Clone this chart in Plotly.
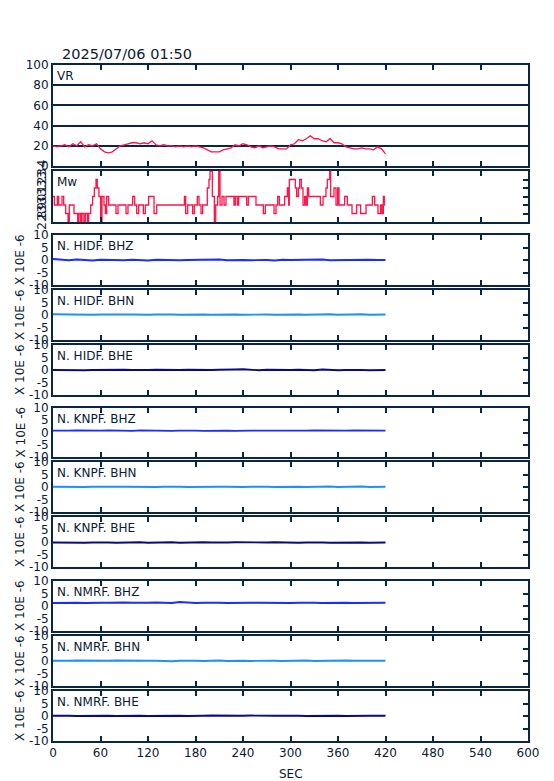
import plotly.graph_objects as go

W, H = 554, 781
OFF = 8  # default page margin around the figure
WF, HF = W - OFF, H - OFF
TITLE = "2025/07/06 01:50"
X_TICKS = [0, 60, 120, 180, 240, 300, 360, 420, 480, 540, 600]
T_END = 420

# ---- VR (variance reduction) sampled every 5 s ----
vr_t = list(range(0, 421, 5))
vr_vals = [20, 19, 20, 21, 19, 22, 20, 24, 19, 21, 20, 22, 17, 14, 13, 14, 17, 20, 21, 22,
           23, 23, 22, 23, 22, 25, 21, 20, 21, 20, 20, 19, 20, 19, 20, 19, 20, 19, 18, 16,
           14, 14, 14, 16, 17, 18, 21, 20, 22, 21, 19, 18, 20, 18, 19, 20, 19, 17, 17, 17,
           21, 22, 26, 25, 27, 30, 27, 27, 25, 24, 27, 23, 23, 22, 19, 18, 17, 17, 18, 17,
           17, 16, 19, 17, 12]

# ---- Mw (step changes) ----
mw_t = [0, 1.7, 5.5, 7.2, 11.4, 13.5, 16, 19, 20.6, 26.5, 31.2, 32.8, 35, 36.6, 39, 40.8,
        43.4, 45, 47.6, 50, 52.2, 54.3, 56, 58, 60.2, 61.9, 64.4, 66.1, 67.8, 70.3, 79.6,
        82.1, 92.2, 94.7, 100.6, 103.2, 105.7, 108.2, 114.1, 116.6, 120.8, 127.6, 131, 166,
        167.6, 170.1, 176.4, 178.5, 182.3, 184.4, 187, 189, 194.9, 197, 198.3, 201.3, 203.8,
        205.5, 208, 209.3, 211, 213.5, 216, 218.5, 228.6, 230.3, 232.8, 234.5, 244.6, 246.7,
        256.4, 265.7, 268.2, 279.2, 281.7, 283.8, 285.9, 292.6, 296, 297.7, 298.5, 306.1,
        307.8, 309.9, 311.6, 313.7, 315.8, 317.9, 319.6, 321.3, 323, 337.7, 341.1, 344.8,
        346.5, 349.5, 350.7, 354.9, 357.5, 359.6, 361.3, 368.4, 371.8, 377.7, 383.6, 388.6,
        395.4, 403.4, 406.3, 410.5, 413.9, 415.6, 417.3, 418.5, 419.6]
mw_vals = [3.1, 3.0, 3.1, 3.0, 3.1, 3.0, 2.9, 2.8, 3.0, 2.9, 2.8, 2.9, 2.8, 2.9, 2.8, 2.9,
           2.8, 2.9, 3.0, 3.1, 3.2, 3.3, 3.2, 3.1, 2.8, 3.1, 3.0, 2.9, 3.1, 3.0, 2.9,
           3.0, 2.9, 3.0, 3.1, 3.0, 2.9, 3.0, 2.9, 3.0, 3.1, 2.9, 3.0, 3.1,
           2.9, 3.0, 2.9, 3.0, 3.1, 3.0, 2.9, 3.0, 3.2, 3.3, 3.4, 3.1, 2.8,
           3.0, 3.1, 3.4, 3.0, 3.1, 3.0, 3.1, 3.0, 3.1, 3.0, 3.1, 3.0, 3.1,
           3.0, 2.9, 3.0, 2.9, 3.0, 3.1, 3.0, 3.1, 3.2, 3.0, 3.3, 3.2,
           3.1, 3.2, 3.3, 3.2, 3.0, 3.1, 3.0, 3.2, 3.1, 3.0, 3.1, 3.2,
           3.3, 3.4, 3.1, 3.2, 3.0, 3.2, 3.0, 3.1, 3.0, 2.9, 3.0, 2.9,
           3.0, 3.1, 3.0, 2.9, 3.0, 2.9, 3.1, 3.0, 3.0]

# ---- waveforms (x 10E-6), sampled every 10 s ----
station_labels = ["N. HIDF. BHZ", "N. HIDF. BHN", "N. HIDF. BHE",
                  "N. KNPF. BHZ", "N. KNPF. BHN", "N. KNPF. BHE",
                  "N. NMRF. BHZ", "N. NMRF. BHN", "N. NMRF. BHE"]
hidf_bhz = [0.4, 0.1, -0.1, 0.2, 0.0, -0.2, 0.1, 0.0, 0.2, -0.1, 0.1, 0.0, -0.2, 0.1, 0.0,
            0.2, -0.1, 0.0, 0.1, -0.1, 0.0, 0.2, -0.1, 0.1, 0.0, -0.1, 0.1, 0.0, -0.2, 0.1,
            0.0, 0.1, -0.1, 0.0, 0.2, -0.1, 0.0, 0.1, -0.1, 0.0, 0.1, 0.0, 0.0]
hidf_bhn = [0.3, 0.2, 0.1, 0.3, 0.2, 0.1, 0.2, 0.3, 0.1, 0.2, 0.2, 0.3, 0.1, 0.2, 0.3,
            0.2, 0.1, 0.2, 0.3, 0.2, 0.1, 0.2, 0.3, 0.2, 0.1, 0.2, 0.4, 0.2, 0.1, 0.2,
            0.3, 0.2, 0.1, 0.2, 0.2, 0.3, 0.1, 0.2, 0.2, 0.3, 0.1, 0.2, 0.2]
hidf_bhe = [0.0, -0.1, 0.1, 0.0, -0.1, 0.0, 0.1, -0.1, 0.0, 0.1, 0.0, -0.1, 0.0, 0.1, 0.0,
            -0.1, 0.0, 0.1, 0.0, -0.1, 0.0, 0.1, 0.0, 0.2, 0.3, 0.0, -0.1, 0.1, 0.0, -0.1,
            0.0, 0.1, 0.0, -0.1, 0.2, 0.0, -0.1, 0.0, 0.1, 0.0, -0.1, 0.0, 0.0]
knpf_bhz = [0.8, 0.7, 0.8, 0.9, 0.8, 0.7, 0.8, 0.9, 0.8, 0.8, 0.7, 0.9, 0.8, 0.8, 0.9,
            0.7, 0.8, 0.9, 0.8, 0.7, 0.8, 0.9, 0.8, 0.7, 0.9, 0.8, 0.8, 0.7, 0.9, 0.8,
            0.8, 0.7, 0.8, 0.9, 0.8, 0.8, 0.7, 0.8, 0.9, 0.8, 0.7, 0.8, 0.8]
knpf_bhn = [0.1, 0.0, 0.2, 0.1, 0.0, 0.1, 0.2, 0.0, 0.1, 0.1, 0.0, 0.2, 0.1, 0.0, 0.1,
            0.2, 0.1, 0.0, 0.1, 0.2, 0.0, 0.1, 0.1, 0.2, 0.0, 0.1, 0.2, 0.1, 0.0, 0.1,
            0.2, 0.1, 0.0, 0.1, 0.1, 0.2, 0.0, 0.1, 0.1, 0.2, 0.0, 0.1, 0.1]
knpf_bhe = [-0.2, -0.3, -0.1, -0.2, -0.3, -0.2, -0.1, -0.2, -0.3, -0.2, -0.2, -0.1, -0.3,
            -0.2, -0.2, -0.1, -0.3, -0.2, -0.2, -0.1, -0.2, -0.3, -0.2, -0.1, -0.2, -0.2,
            -0.3, -0.2, -0.1, -0.2, -0.2, -0.3, -0.2, -0.1, -0.2, -0.3, -0.2, -0.2, -0.1,
            -0.2, -0.3, -0.2, -0.2]
nmrf_bhz = [1.2, 1.3, 1.4, 1.3, 1.2, 1.4, 1.3, 1.3, 1.2, 1.4, 1.3, 1.2, 1.3, 1.4, 1.3,
            1.2, 1.6, 1.3, 1.2, 1.3, 1.4, 1.3, 1.2, 1.3, 1.4, 1.3, 1.3, 1.2, 1.4, 1.3,
            1.2, 1.3, 1.4, 1.3, 1.2, 1.3, 1.4, 1.3, 1.2, 1.3, 1.3, 1.4, 1.3]
nmrf_bhn = [0.1, 0.0, 0.1, 0.2, 0.1, 0.0, 0.2, 0.1, 0.2, 0.1, 0.0, 0.2, 0.1, 0.1, 0.0,
            -0.1, 0.1, 0.2, 0.1, 0.0, 0.1, 0.2, 0.0, 0.1, 0.1, 0.0, 0.1, 0.2, 0.1, 0.0,
            0.1, 0.1, 0.2, 0.0, 0.1, 0.1, 0.0, 0.2, 0.1, 0.1, 0.0, 0.1, 0.1]
nmrf_bhe = [0.1, 0.2, 0.1, 0.0, 0.1, 0.2, 0.1, 0.1, 0.0, 0.1, 0.2, 0.1, 0.0, 0.1, 0.1,
            0.2, 0.1, 0.0, -0.1, 0.1, 0.2, 0.1, 0.0, 0.1, 0.1, 0.2, 0.1, 0.0, 0.1, 0.1,
            0.2, 0.1, 0.0, 0.1, 0.2, 0.1, 0.1, 0.0, 0.1, 0.2, 0.1, 0.1, 0.1]
waves = [hidf_bhz, hidf_bhn, hidf_bhe, knpf_bhz, knpf_bhn, knpf_bhe, nmrf_bhz, nmrf_bhn, nmrf_bhe]

# ---- styling ----
NAVY = "#0b2545"
TXT = "#0b1a33"
RED = "#ff1448"
COMP_COLORS = {"BHZ": "#1a2cff", "BHN": "#1e8fff", "BHE": "#0a0a80"}
FONT = "DejaVu Sans"

# panel pixel positions on screen (top, bottom)
panels_px = [(65, 166), (171, 222), (235, 285), (290, 340), (345, 395), (408, 457),
             (462, 512), (517, 567), (581, 631), (636, 686), (691, 741)]
X0, X1 = 53, 528


def py(p):
    return 1 - (p - OFF) / HF


def pxf(p):
    return (p - OFF) / WF


fig = go.Figure()
layout = dict(width=WF, height=HF, margin=dict(l=0, r=0, t=0, b=0), autosize=False,
              paper_bgcolor="white", plot_bgcolor="white", showlegend=False,
              font=dict(family=FONT, size=12, color=TXT))
annotations = []
N = len(panels_px)

for i in range(1, N + 1):
    top, bot = panels_px[i - 1]
    dom = [py(bot), py(top)]
    xa = "xaxis" if i == 1 else f"xaxis{i}"
    ya = "yaxis" if i == 1 else f"yaxis{i}"
    layout[xa] = dict(domain=[pxf(X0), pxf(X1)], range=[0, 600], anchor=f"y{i}" if i > 1 else "y",
                      tickvals=X_TICKS, ticks="inside", ticklen=5, tickwidth=1.5, tickcolor=NAVY,
                      showline=True, mirror="ticks", linewidth=2, linecolor=NAVY,
                      showgrid=False, zeroline=False, showticklabels=(i == N), automargin=False,
                      tickfont=dict(size=12, color=TXT))
    if i == 1:
        yr, tv, tt, rt = [0, 100], [0, 20, 40, 60, 80, 100], ["0", "20", "40", "60", "80", "100"], []
        grid = True
        tangle = 0
    elif i == 2:
        yr = [2.8, 3.4]
        tv = [2.8, 2.9, 3.0, 3.1, 3.2, 3.3, 3.4]
        tt = [f"{v:.1f}" for v in tv]
        rt = [2.9, 3.0, 3.1, 3.2, 3.3]
        grid = False
        tangle = -90
    else:
        yr = [-10, 10]
        tv = [-10, -5, 0, 5, 10]
        tt = ["-10", "-5", "0", "5", "10"]
        rt = [-5, 0, 5]
        grid = False
        tangle = 0
    layout[ya] = dict(domain=dom, range=yr, anchor=f"x{i}" if i > 1 else "x",
                      tickvals=tv, ticktext=tt, ticks="", tickangle=tangle,
                      showline=True, mirror=True, linewidth=2, linecolor=NAVY,
                      showgrid=grid, gridcolor=NAVY, gridwidth=1.5, zeroline=False,
                      automargin=False, tickfont=dict(size=12, color=TXT))
    # right-side inward ticks
    j = N + i
    layout[f"yaxis{j}"] = dict(overlaying=f"y{i}" if i > 1 else "y", side="right",
                               anchor=f"x{i}" if i > 1 else "x", range=yr, tickvals=rt,
                               ticks="inside", ticklen=5, tickwidth=1.5, tickcolor=NAVY,
                               showticklabels=False, showline=False, showgrid=False,
                               zeroline=False, automargin=False)
    fig.add_trace(go.Scatter(x=[None], y=[None], xaxis=f"x{i}" if i > 1 else "x",
                             yaxis=f"y{j}", showlegend=False, hoverinfo="skip"))

# VR
fig.add_trace(go.Scatter(x=vr_t, y=vr_vals, mode="lines", line=dict(color=RED, width=1.3),
                         xaxis="x", yaxis="y"))
# Mw
fig.add_trace(go.Scatter(x=mw_t, y=mw_vals, mode="lines", line=dict(color=RED, width=1.3, shape="hv"),
                         xaxis="x2", yaxis="y2"))
# waveforms
for k, (lab, vals) in enumerate(zip(station_labels, waves)):
    i = k + 3
    tt = [n * T_END / (len(vals) - 1) for n in range(len(vals))]
    col = COMP_COLORS[lab.split(". ")[-1]]
    fig.add_trace(go.Scatter(x=tt, y=vals, mode="lines", line=dict(color=col, width=1.8),
                             xaxis=f"x{i}", yaxis=f"y{i}"))

# panel labels
panel_names = ["VR", "Mw"] + station_labels
for i, name in enumerate(panel_names):
    top, bot = panels_px[i]
    annotations.append(dict(text=name, x=pxf(X0 + 2), y=py(top + 2), xref="paper", yref="paper",
                            xanchor="left", yanchor="top", showarrow=False,
                            font=dict(family=FONT, size=12, color=TXT)))
    if i >= 2:
        annotations.append(dict(text="X 10E -6", x=pxf(20), y=py((top + bot) / 2), xref="paper",
                                yref="paper", xanchor="center", yanchor="middle", textangle=-90,
                                showarrow=False, font=dict(family=FONT, size=12, color=TXT)))

annotations.append(dict(text=TITLE, x=pxf(60), y=py(64), xref="paper", yref="paper",
                        xanchor="left", yanchor="bottom", showarrow=False,
                        font=dict(family=FONT, size=14.5, color=TXT)))
annotations.append(dict(text="SEC", x=pxf((X0 + X1) / 2), y=py(765), xref="paper", yref="paper",
                        xanchor="center", yanchor="top", showarrow=False,
                        font=dict(family=FONT, size=12, color=TXT)))
layout["annotations"] = annotations
fig.update_layout(**layout)
fig.write_html("out.html")
